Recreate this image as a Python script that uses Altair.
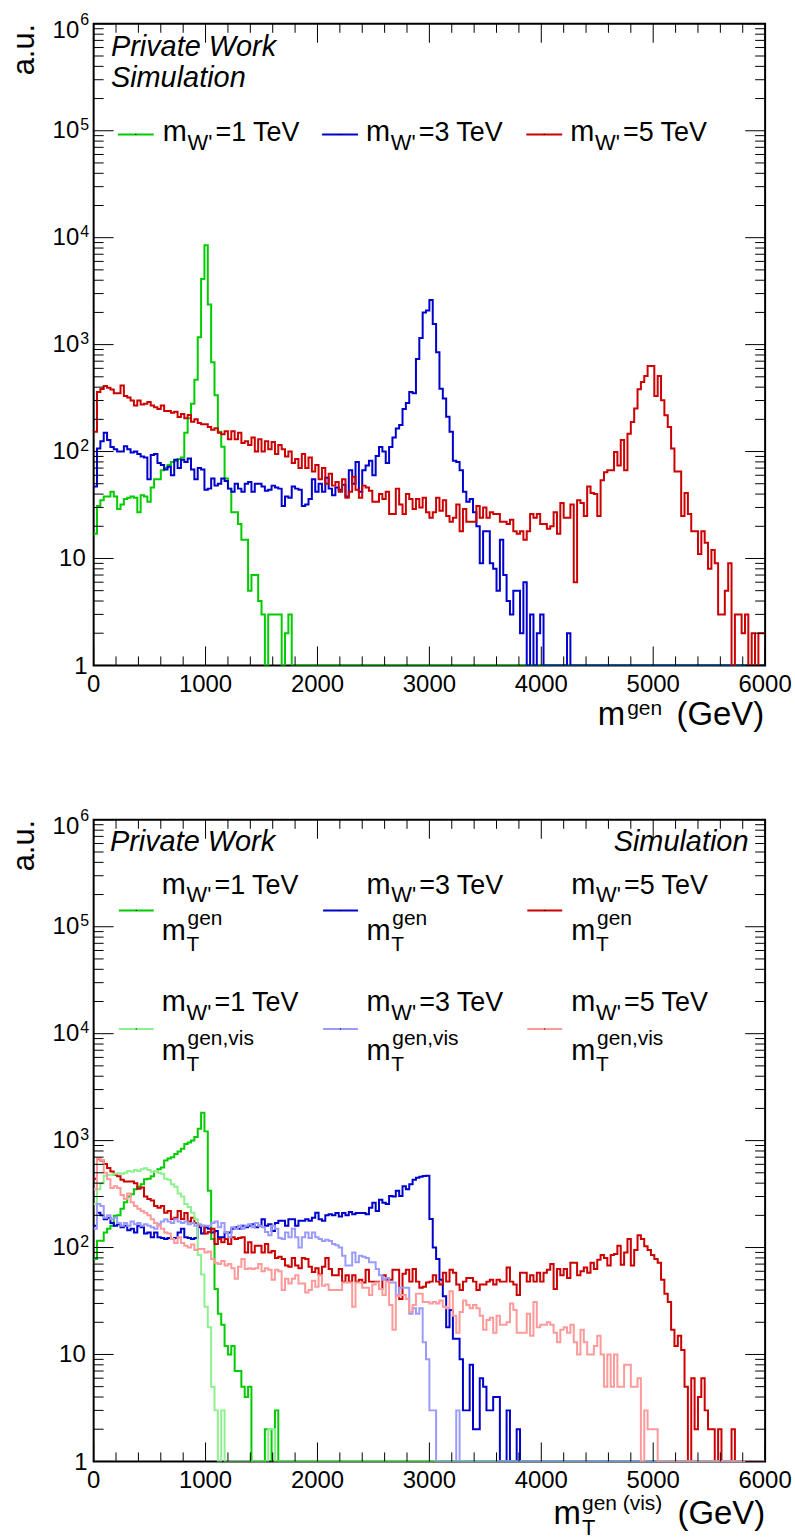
import altair as alt
import pandas as pd

# ---------------- data (30 GeV bins, 0 - 6000 GeV) ----------------
BIN_W = 30
N_BINS = 200

def pad(vals):
    return list(vals) + [0] * (N_BINS - len(vals))

TOP_GREEN = pad([17, 31, 35, 38, 38, 42, 38, 29, 32, 36,
                 37, 38, 37, 27, 39, 38, 34, 46, 55, 55,
                 67, 70, 75, 80, 82, 85, 88, 150, 205, 280,
                 470, 1170, 4100, 8500, 2370, 685, 336, 153, 111, 56,
                 45, 27, 27, 21, 15, 15, 5, 7, 7, 4,
                 3, 0, 3, 3, 3, 3, 0, 2, 3, 0])

TOP_BLUE = pad([47, 107, 125, 150, 128, 110, 105, 100, 100, 112,
                105, 98, 100, 95, 90, 88, 55, 93, 95, 78,
                75, 68, 72, 60, 84, 70, 84, 80, 86, 68,
                55, 70, 68, 44, 45, 56, 48, 50, 56, 53,
                45, 42, 50, 45, 42, 50, 52, 42, 50, 50,
                47, 43, 44, 48, 46, 45, 31, 38, 37, 47,
                45, 44, 31, 32, 36, 55, 42, 50, 42, 57,
                45, 39, 46, 44, 49, 38, 67, 50, 80, 42,
                67, 74, 82, 60, 91, 110, 100, 78, 110, 135,
                164, 177, 250, 285, 360, 350, 735, 1150, 2000, 2080,
                2620, 1560, 850, 387, 313, 211, 153, 82, 80, 67,
                42, 34, 36, 27, 20, 9, 18, 18, 9, 8,
                5, 15, 7, 4, 3, 5, 5, 2, 6, 0,
                3, 0, 2, 3, 0, 0, 0, 0, 0, 0,
                0, 2])

TOP_RED = pad([153, 360, 385, 410, 395, 380, 350, 350, 415, 330,
               320, 300, 270, 300, 275, 280, 290, 270, 260, 250,
               270, 240, 240, 230, 235, 210, 225, 205, 220, 190,
               200, 185, 180, 180, 170, 160, 165, 150, 145, 155,
               130, 155, 130, 150, 120, 125, 115, 135, 100, 130,
               100, 125, 105, 123, 95, 115, 105, 90, 100, 78,
               85, 70, 95, 70, 88, 65, 75, 55, 70, 50,
               62, 48, 52, 42, 55, 37, 42, 58, 44, 37,
               48, 46, 43, 34, 34, 40, 36, 42, 26, 26,
               45, 32, 26, 40, 36, 29, 36, 30, 37, 27,
               24, 27, 37, 28, 35, 25, 22, 24, 32, 18,
               29, 22, 22, 22, 31, 24, 30, 24, 27, 26,
               26, 22, 22, 21, 23, 18, 17, 18, 15, 18,
               26, 24, 26, 21, 21, 19, 20, 27, 17, 33,
               24, 24, 32, 6, 35, 33, 25, 47, 41, 40,
               25, 54, 64, 67, 67, 99, 74, 128, 67, 147,
               189, 252, 382, 447, 508, 630, 630, 331, 508, 301,
               218, 170, 107, 65, 65, 25, 41, 26, 18, 18,
               11, 18, 14, 8, 12, 9, 3, 3, 5, 9,
               0, 3, 3, 2, 3, 0, 2, 0, 2, 2])

BOT_GREEN = pad([78, 116, 116, 138, 150, 160, 198, 200, 230, 265,
                 300, 315, 350, 370, 390, 434, 440, 465, 520, 540,
                 560, 650, 680, 700, 750, 790, 840, 930, 960, 1000,
                 1080, 1290, 1820, 1220, 340, 120, 41, 24, 19, 12,
                 10, 12, 7, 7, 5, 4, 5, 0, 0, 0,
                 0, 2, 2, 0, 3, 0])

BOT_LGREEN = pad([255, 350, 400, 470, 480, 480, 490, 495, 490, 500,
                  520, 510, 530, 520, 540, 550, 530, 510, 520, 500,
                  490, 440, 430, 390, 370, 320, 300, 255, 240, 212,
                  184, 85, 56, 28, 18, 5, 3, 0, 3, 0,
                  0, 0, 0, 0, 0, 0, 0, 0, 0, 0,
                  0, 0, 2, 2, 0])

BOT_BLUE = pad([160, 212, 200, 184, 190, 170, 160, 165, 155, 160,
                145, 150, 138, 160, 155, 135, 138, 125, 138, 125,
                123, 120, 123, 120, 123, 138, 150, 125, 123, 120,
                123, 155, 135, 155, 150, 138, 143, 125, 125, 138,
                138, 150, 155, 150, 160, 155, 160, 165, 155, 160,
                184, 160, 165, 143, 170, 178, 178, 160, 184, 184,
                160, 178, 178, 184, 178, 190, 212, 184, 178, 200,
                205, 200, 210, 195, 210, 200, 215, 205, 210, 210,
                210, 205, 235, 263, 220, 280, 263, 255, 303, 300,
                340, 303, 375, 350, 390, 430, 450, 460, 466, 470,
                185, 100, 78, 50, 35, 18, 26, 14, 14, 9,
                3, 3, 8, 2, 2, 6, 5, 3, 3, 4,
                4, 0, 0, 3, 0, 0, 2])

BOT_LBLUE = pad([150, 255, 245, 190, 200, 184, 190, 170, 160, 170,
                 160, 175, 165, 170, 160, 165, 160, 155, 150, 165,
                 175, 184, 175, 170, 184, 175, 170, 175, 165, 170,
                 160, 165, 160, 160, 160, 170, 175, 155, 170, 138,
                 125, 155, 150, 160, 150, 160, 165, 155, 170, 160,
                 155, 140, 130, 160, 150, 123, 120, 138, 125, 150,
                 125, 100, 125, 138, 123, 138, 125, 120, 115, 118,
                 115, 108, 105, 100, 84, 68, 68, 90, 73, 84,
                 82, 80, 73, 73, 63, 55, 50, 52, 47, 47,
                 36, 42, 42, 42, 24, 27, 24, 27, 13, 9,
                 3, 3, 0, 0, 0, 0, 0, 0, 3])

BOT_RED = pad([440, 670, 650, 605, 555, 515, 480, 465, 430, 415,
               415, 415, 400, 355, 365, 300, 285, 275, 245, 235,
               245, 212, 220, 185, 190, 220, 185, 210, 175, 190,
               170, 160, 160, 135, 140, 150, 108, 120, 112, 120,
               108, 125, 120, 123, 125, 90, 112, 90, 104, 104,
               90, 108, 90, 93, 80, 82, 78, 68, 66, 80,
               68, 64, 80, 78, 66, 59, 64, 56, 66, 80,
               63, 55, 55, 63, 48, 55, 48, 55, 48, 50,
               47, 62, 48, 48, 48, 41, 55, 50, 50, 62,
               62, 33, 57, 62, 48, 63, 48, 42, 43, 47,
               48, 55, 48, 45, 58, 48, 62, 58, 45, 40,
               48, 52, 52, 48, 40, 45, 45, 48, 50, 45,
               50, 48, 48, 65, 48, 45, 36, 58, 58, 48,
               55, 48, 58, 48, 58, 62, 70, 41, 63, 55,
               63, 52, 72, 72, 55, 60, 65, 58, 72, 63,
               77, 85, 80, 68, 85, 87, 104, 69, 90, 120,
               68, 95, 130, 120, 103, 95, 85, 78, 72, 50,
               37, 31, 17, 12, 15, 11, 5, 0, 6, 2,
               4, 6, 3, 2, 2, 0, 2, 0, 0, 0,
               2, 0, 0, 0, 0, 0, 0, 0, 0, 0])

BOT_LRED = pad([350, 680, 660, 500, 434, 360, 375, 360, 310, 285,
                320, 265, 245, 230, 220, 212, 200, 184, 170, 160,
                150, 138, 135, 120, 110, 125, 110, 104, 100, 107,
                95, 97, 97, 90, 92, 78, 72, 70, 75, 68,
                70, 64, 51, 66, 78, 63, 64, 63, 64, 70,
                60, 64, 62, 50, 62, 60, 40, 51, 46, 51,
                55, 46, 46, 38, 40, 49, 43, 55, 44, 45,
                40, 40, 40, 40, 47, 47, 47, 28, 47, 47,
                42, 42, 36, 45, 47, 41, 36, 48, 29, 17,
                35, 36, 36, 33, 25, 29, 37, 37, 31, 31,
                30, 31, 30, 32, 28, 27, 39, 23, 16, 25,
                32, 29, 27, 29, 27, 23, 17, 21, 22, 16,
                23, 19, 19, 20, 30, 26, 16, 16, 16, 24,
                15, 31, 18, 19, 19, 20, 19, 16, 13, 17,
                18, 16, 19, 13, 10, 17, 13, 10, 10, 12,
                15, 10, 5, 10, 5, 10, 5, 5, 8, 8,
                5, 5, 6, 0, 3, 2, 2, 2])

X_MAJOR = [0, 1000, 2000, 3000, 4000, 5000, 6000]
X_MINOR = [v for v in range(0, 6001, 200) if v % 1000 != 0]
Y_DECADES = [1, 10, 100, 1000, 10000, 100000, 1000000]
Y_MINOR = [k * d for d in [1, 10, 100, 1000, 10000, 100000] for k in range(2, 10)]

GREEN, BLUE, RED = "#00cc00", "#0000cc", "#cc0000"
LGREEN, LBLUE, LRED = "#8ef08e", "#9a9aff", "#ff9a9a"

W, H = 674, 644
FONT = "Liberation Sans"

xs = alt.Scale(domain=[0, 6000], nice=False, zero=False)
ys = alt.Scale(type="log", domain=[1, 1000000], nice=False)
ONE = pd.DataFrame({"d": [0]})


def hist(vals, color):
    edges = [i * BIN_W for i in range(N_BINS)] + [N_BINS * BIN_W]
    v = list(vals) + [vals[-1]]
    df = pd.DataFrame({"x": edges, "v": [max(a, 1) for a in v]})
    return alt.Chart(df).mark_line(interpolate="step-after", color=color, strokeWidth=2, clip=True).encode(
        x=alt.X("x:Q", scale=xs, axis=None), y=alt.Y("v:Q", scale=ys, axis=None))


def txt(s, x, y, size, align="left", style="normal", angle=0):
    kw = dict(text=s, font=FONT, fontSize=size, align=align, baseline="alphabetic",
              fontStyle=style, color="black")
    if angle:
        kw["angle"] = angle
    return alt.Chart(ONE).mark_text(**kw).encode(x=alt.value(x), y=alt.value(y))


def hline(x1, x2, y, color, width=2):
    return alt.Chart(ONE).mark_rule(color=color, strokeWidth=width).encode(
        x=alt.value(x1), x2=alt.value(x2), y=alt.value(y))


def legend_line(x1, x2, y, color):
    mid = (x1 + x2) / 2
    return [hline(x1, x2, y, color), hline(mid - 0.6, mid + 0.6, y, "black", 1)]


def frame_layers():
    L = []
    xmaj = pd.DataFrame({"t": X_MAJOR})
    xmin = pd.DataFrame({"t": X_MINOR})
    ymaj = pd.DataFrame({"t": Y_DECADES})
    ymin = pd.DataFrame({"t": Y_MINOR})
    for df, ln in [(xmaj, 19), (xmin, 9)]:
        L.append(alt.Chart(df).mark_rule(color="black", strokeWidth=1).encode(
            x=alt.X("t:Q", scale=xs, axis=None), y=alt.value(H), y2=alt.value(H - ln)))
        L.append(alt.Chart(df).mark_rule(color="black", strokeWidth=1).encode(
            x=alt.X("t:Q", scale=xs, axis=None), y=alt.value(0), y2=alt.value(ln)))
    for df, ln in [(ymaj, 20), (ymin, 10)]:
        L.append(alt.Chart(df).mark_rule(color="black", strokeWidth=1).encode(
            y=alt.Y("t:Q", scale=ys, axis=None), x=alt.value(0), x2=alt.value(ln)))
        L.append(alt.Chart(df).mark_rule(color="black", strokeWidth=1).encode(
            y=alt.Y("t:Q", scale=ys, axis=None), x=alt.value(W), x2=alt.value(W - ln)))
    # x tick labels
    L.append(alt.Chart(pd.DataFrame({"t": X_MAJOR, "s": [str(v) for v in X_MAJOR]})).mark_text(
        font=FONT, fontSize=24, align="center", baseline="alphabetic", color="black").encode(
        x=alt.X("t:Q", scale=xs, axis=None), y=alt.value(H + 27), text="s:N"))
    # y tick labels
    L.append(alt.Chart(pd.DataFrame({"t": [1]})).mark_text(
        font=FONT, fontSize=24, align="right", baseline="alphabetic", dy=9, color="black", text="1").encode(
        y=alt.Y("t:Q", scale=ys, axis=None), x=alt.value(-6)))
    L.append(alt.Chart(pd.DataFrame({"t": [10]})).mark_text(
        font=FONT, fontSize=24, align="right", baseline="alphabetic", dy=8, color="black", text="10").encode(
        y=alt.Y("t:Q", scale=ys, axis=None), x=alt.value(-8)))
    sup = pd.DataFrame({"t": Y_DECADES[2:6], "s": ["2", "3", "4", "5"]})
    L.append(alt.Chart(sup).mark_text(
        font=FONT, fontSize=24, align="right", baseline="alphabetic", dy=7, color="black", text="10").encode(
        y=alt.Y("t:Q", scale=ys, axis=None), x=alt.value(-14.5)))
    L.append(alt.Chart(sup).mark_text(
        font=FONT, fontSize=16, align="left", baseline="alphabetic", dy=-1, color="black").encode(
        y=alt.Y("t:Q", scale=ys, axis=None), x=alt.value(-13.5), text="s:N"))
    top6 = pd.DataFrame({"t": [1000000], "s": ["6"]})
    L.append(alt.Chart(top6).mark_text(
        font=FONT, fontSize=24, align="right", baseline="alphabetic", dy=14, color="black", text="10").encode(
        y=alt.Y("t:Q", scale=ys, axis=None), x=alt.value(-14.5)))
    L.append(alt.Chart(top6).mark_text(
        font=FONT, fontSize=16, align="left", baseline="alphabetic", dy=1, color="black").encode(
        y=alt.Y("t:Q", scale=ys, axis=None), x=alt.value(-13.5), text="s:N"))
    # y title
    L.append(txt("a.u.", -60, 0, 31, align="right", angle=270))
    return L


def mw(x0, y0, mass):
    return [txt("m", x0, y0, 29),
            txt("W'", x0 + 25, y0 + 8.5, 22),
            txt("=%d TeV" % mass, x0 + 53, y0, 27)]


def mt(x0, y0, sup):
    return [txt("m", x0, y0, 29),
            txt("T", x0 + 25, y0 + 11, 21),
            txt(sup, x0 + 26, y0 - 15, 21)]


# ---------------- top panel ----------------
top_layers = [alt.Chart(ONE).mark_rect(opacity=0).encode(
    x=alt.value(-92.7), x2=alt.value(795 - 92.7), y=alt.value(-20), y2=alt.value(1539 - 20))]
top_layers += [hist(TOP_GREEN, GREEN), hist(TOP_BLUE, BLUE), hist(TOP_RED, RED)]
top_layers += frame_layers()
top_layers += [txt("Private Work", 17.3, 32, 29, style="italic"),
               txt("Simulation", 17.3, 63, 29, style="italic")]
for (lx, tx, c, m) in [(24.3, 69.3, GREEN, 1), (229.3, 273.3, BLUE, 3), (434.3, 478.3, RED, 5)]:
    top_layers += legend_line(lx, lx + 36, 111, c)
    top_layers += mw(tx, 118, m)
top_layers += [txt("m", 533.5, H + 60, 33, align="right"),
               txt("gen", 535.5, H + 50, 21),
               txt("(GeV)", 673, H + 60, 33, align="right")]
top = alt.layer(*top_layers).properties(width=W, height=H)

# ---------------- bottom panel ----------------
bot_layers = [hist(BOT_GREEN, GREEN), hist(BOT_BLUE, BLUE), hist(BOT_RED, RED),
              hist(BOT_LGREEN, LGREEN), hist(BOT_LBLUE, LBLUE), hist(BOT_LRED, LRED)]
bot_layers += frame_layers()
bot_layers += [txt("Private Work", 16.3, 31, 29, style="italic"),
               txt("Simulation", 657.3, 31, 29, align="right", style="italic")]
cols = [(25.3, 68.3, 1, GREEN, LGREEN), (230.3, 273.8, 3, BLUE, LBLUE), (435.3, 479.3, 5, RED, LRED)]
for (lx, tx, m, c1, c2) in cols:
    bot_layers += legend_line(lx, lx + 35, 91, c1)
    bot_layers += mw(tx, 74, m)
    bot_layers += mt(tx, 121, "gen")
    bot_layers += legend_line(lx, lx + 35, 210, c2)
    bot_layers += mw(tx, 192, m)
    bot_layers += mt(tx, 241, "gen,vis")
bot_layers += [txt("m", 489, H + 63, 33, align="right"),
               txt("T", 490.3, H + 74, 22),
               txt("gen (vis)", 490.3, H + 49, 21),
               txt("(GeV)", 674, H + 63, 33, align="right")]
bottom = alt.layer(*bot_layers).properties(width=W, height=H)

chart = alt.vconcat(top, bottom, spacing=155, bounds="flush").properties(
    padding=0
).configure_view(stroke="black", strokeWidth=2)

chart.save("out.html", embed_options={"renderer": "svg", "actions": False})
